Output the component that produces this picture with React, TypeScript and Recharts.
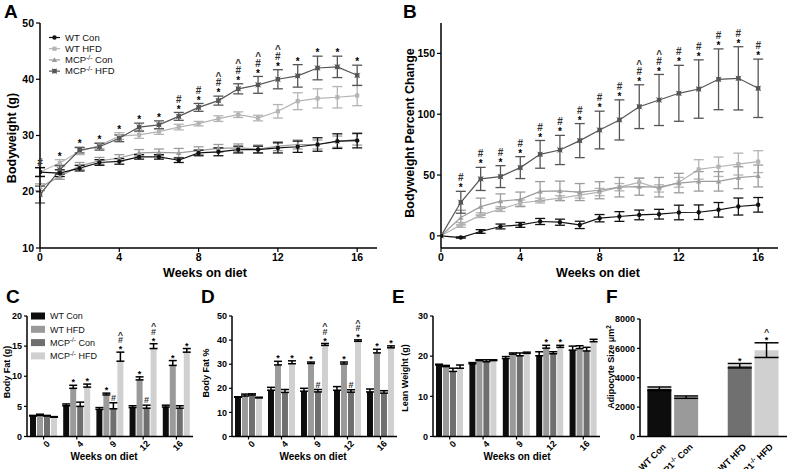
import React from "react";
import { ComposedChart, BarChart, Line, Bar, XAxis, YAxis, ErrorBar, Cell, LabelList } from "recharts";

const FONT = "'Liberation Sans', Arial, sans-serif";
const NARROW = "'Liberation Sans Narrow', 'Liberation Sans', Arial, sans-serif";

// ---------- Panel A / B data ----------
const weeks = [0, 1, 2, 3, 4, 5, 6, 7, 8, 9, 10, 11, 12, 13, 14, 15, 16];
const weekTicks = [0, 4, 8, 12, 16];

const A_wtCon = [23.5, 23.3, 24.2, 25.2, 25.4, 26.2, 26.2, 25.6, 26.9, 27.1, 27.5, 27.5, 27.8, 28.0, 28.4, 29.0, 29.1];
const A_wtConErr = [0.8, 0.6, 0.5, 0.5, 0.5, 0.4, 0.4, 0.4, 0.5, 0.7, 0.6, 0.6, 0.9, 1.0, 1.2, 1.3, 1.3];
const A_wtHfd = [23.5, 25.1, 27.2, 28.2, 29.9, 30.1, 30.7, 31.5, 32.1, 33.0, 33.7, 33.1, 34.3, 36.1, 36.6, 36.8, 37.1];
const A_wtHfdErr = [0.7, 0.6, 0.6, 0.5, 0.6, 0.6, 0.5, 0.5, 0.4, 0.5, 0.5, 0.5, 1.2, 1.5, 1.7, 1.9, 1.8];
const A_mcpCon = [20.8, 22.7, 24.6, 25.5, 26.0, 26.9, 27.0, 26.9, 27.3, 27.7, 27.8, 27.6, 28.1, 28.4, 28.4, 28.9, 29.3];
const A_mcpConErr = [0.6, 0.5, 0.6, 0.6, 0.6, 0.6, 0.6, 0.8, 0.7, 0.7, 0.7, 0.7, 0.8, 0.8, 0.8, 1.0, 1.0];
const A_mcpHfd = [19.5, 23.9, 27.4, 28.0, 29.5, 31.5, 31.9, 33.4, 35.0, 36.2, 38.3, 39.0, 40.0, 40.6, 42.0, 42.2, 40.7];
const A_mcpHfdErr = [1.5, 0.8, 0.5, 0.6, 0.6, 0.7, 0.7, 0.7, 0.7, 0.8, 0.9, 1.5, 1.7, 2.0, 2.1, 1.9, 1.8];
const A_annot = ["#", "*", "*", "*", "*", "*", "*", "*#", "*#", "*#^", "*#^", "*#^", "*#^", "*", "*", "*", "*"];

const B_wtCon = [0, -1.4, 3.6, 7.7, 9.0, 11.8, 11.2, 9.0, 14.5, 15.9, 17.2, 17.8, 19.2, 19.4, 21.4, 24.1, 25.5];
const B_wtConErr = [0, 0.5, 1.5, 2, 2, 2.5, 2.5, 3, 3, 4, 4, 4, 6, 6, 6, 7, 6];
const B_wtHfd = [0, 9, 17, 22, 27, 29, 31, 33.5, 36, 40, 44, 39, 44, 54.6, 56.8, 59, 61];
const B_wtHfdErr = [0, 2, 2, 2, 2.5, 2, 2, 2.5, 3, 3, 3.5, 3, 4, 8, 8, 9, 9];
const B_mcpCon = [0, 15, 24, 28.5, 30, 36.6, 37, 36, 37.5, 40, 40.4, 40, 43.4, 44.8, 44.8, 47.8, 49.2];
const B_mcpConErr = [0, 6, 7, 6, 6, 8, 8, 7, 7, 8, 7, 8, 8, 8, 8, 9, 9];
const B_mcpHfd = [0, 27.6, 46.8, 48.7, 56.1, 67, 70.6, 78.3, 87, 95.3, 106.2, 111.7, 117.2, 120.7, 128.7, 129.5, 121.3];
const B_mcpHfdErr = [0, 9, 9.5, 9, 9, 11.4, 12, 14, 15.5, 16.5, 18, 21, 23, 24, 25, 26, 24];
const B_annot = ["", "*#", "*#", "*#", "*#", "*#", "*#", "*#", "*#", "*#", "*#^", "*#^", "*#", "*#", "*#", "*#", "*#"];

// ---------- Bar panels data ----------
const barCats = ["0", "4", "9", "12", "16"];

const C_wtCon = [3.4, 5.1, 4.5, 4.8, 4.9];
const C_wtConErr = [0.1, 0.3, 0.3, 0.3, 0.3];
const C_wtHfd = [3.5, 8.0, 6.9, 9.4, 11.8];
const C_wtHfdErr = [0.2, 0.5, 0.3, 0.5, 0.8];
const C_mcpCon = [3.4, 5.0, 4.6, 4.7, 4.7];
const C_mcpConErr = [0.1, 0.7, 1.0, 0.5, 0.4];
const C_mcpHfd = [3.2, 8.2, 12.5, 14.6, 14.0];
const C_mcpHfdErr = [0.1, 0.5, 1.5, 0.8, 0.6];

const D_wtCon = [16.3, 19.2, 18.8, 19.2, 18.5];
const D_wtConErr = [0.2, 1.2, 1.2, 1.5, 1.2];
const D_wtHfd = [16.8, 29.7, 30.3, 30.1, 34.7];
const D_wtHfdErr = [0.8, 1.5, 0.6, 0.8, 1.5];
const D_mcpCon = [17.2, 18.3, 18.5, 18.4, 18.0];
const D_mcpConErr = [0.5, 1.2, 1.0, 1.0, 1.0];
const D_mcpHfd = [16.0, 30.2, 37.8, 39.5, 36.8];
const D_mcpHfdErr = [0.3, 1.2, 0.8, 0.6, 0.8];

const E_wtCon = [17.8, 18.1, 19.4, 20.1, 21.5];
const E_wtConErr = [0.2, 0.3, 0.5, 1.0, 1.0];
const E_wtHfd = [17.4, 18.9, 20.5, 22.0, 21.9];
const E_wtHfdErr = [0.3, 0.2, 0.3, 0.7, 0.7];
const E_mcpCon = [16.2, 18.6, 20.1, 20.6, 21.3];
const E_mcpConErr = [0.8, 0.5, 0.7, 0.5, 0.9];
const E_mcpHfd = [17.0, 18.9, 20.7, 22.2, 23.6];
const E_mcpHfdErr = [0.8, 0.2, 0.3, 0.5, 0.6];

const CD_annWtHfd = ["", "*", "*", "*", "*"];
const CD_annMcpCon = ["", "", "#", "#", ""];
const CD_annMcpHfd = ["", "*", "*#^", "*#^", "*"];
const E_annWtHfd = ["", "", "", "*", ""];
const E_annMcpHfd = ["", "", "", "*", ""];
const noAnn = ["", "", "", "", ""];

const F_labels = ["WT Con", "MCP1-/- Con", "WT HFD", "MCP1-/- HFD"];
const F_values = [3250, 2680, 4820, 5880];
const F_errs = [120, 80, 150, 500];
const F_annot = ["", "", "*", "*^"];
const F_colors = ["#0d0d0d", "#9a9a9a", "#707070", "#d0d0d0"];

// ---------- colours ----------
const COL = { wtCon: "#111111", wtHfd: "#b4b4b4", mcpCon: "#9c9c9c", mcpHfd: "#555555" };
const BAR = { wtCon: "#0d0d0d", wtHfd: "#9a9a9a", mcpCon: "#6f6f6f", mcpHfd: "#d0d0d0" };

function buildLine(a: number[][], ann: string[]) {
  return weeks.map((w, i) => ({
    week: w,
    wtCon: a[0][i], wtConErr: a[1][i],
    wtHfd: a[2][i], wtHfdErr: a[3][i],
    mcpCon: a[4][i], mcpConErr: a[5][i],
    mcpHfd: a[6][i], mcpHfdErr: a[7][i],
    annY: Math.max(a[0][i] + a[1][i], a[2][i] + a[3][i], a[4][i] + a[5][i], a[6][i] + a[7][i]),
    annT: ann[i],
  }));
}
const dataA = buildLine([A_wtCon, A_wtConErr, A_wtHfd, A_wtHfdErr, A_mcpCon, A_mcpConErr, A_mcpHfd, A_mcpHfdErr], A_annot);
const dataB = buildLine([B_wtCon, B_wtConErr, B_wtHfd, B_wtHfdErr, B_mcpCon, B_mcpConErr, B_mcpHfd, B_mcpHfdErr], B_annot);

function buildBars(v: number[][], ann: string[][]) {
  return barCats.map((c, i) => ({
    cat: c,
    wtCon: v[0][i], wtConErr: v[1][i], wtConE: [0, v[1][i]], wtConA: ann[0][i],
    wtHfd: v[2][i], wtHfdErr: v[3][i], wtHfdE: [0, v[3][i]], wtHfdA: ann[1][i],
    mcpCon: v[4][i], mcpConErr: v[5][i], mcpConE: [0, v[5][i]], mcpConA: ann[2][i],
    mcpHfd: v[6][i], mcpHfdErr: v[7][i], mcpHfdE: [0, v[7][i]], mcpHfdA: ann[3][i],
  }));
}
const dataC = buildBars([C_wtCon, C_wtConErr, C_wtHfd, C_wtHfdErr, C_mcpCon, C_mcpConErr, C_mcpHfd, C_mcpHfdErr], [noAnn, CD_annWtHfd, CD_annMcpCon, CD_annMcpHfd]);
const dataD = buildBars([D_wtCon, D_wtConErr, D_wtHfd, D_wtHfdErr, D_mcpCon, D_mcpConErr, D_mcpHfd, D_mcpHfdErr], [noAnn, CD_annWtHfd, CD_annMcpCon, CD_annMcpHfd]);
const dataE = buildBars([E_wtCon, E_wtConErr, E_wtHfd, E_wtHfdErr, E_mcpCon, E_mcpConErr, E_mcpHfd, E_mcpHfdErr], [noAnn, E_annWtHfd, noAnn, E_annMcpHfd]);

const dataF: any[] = [];
F_labels.forEach((l, i) => {
  if (i === 2) dataF.push({ cat: "gap", v: null, err: 0, ann: "", color: "#fff" });
  dataF.push({ cat: l, v: F_values[i], err: F_errs[i], ann: F_annot[i], color: F_colors[i] });
});

// ---------- helpers ----------
const glyphCenter: Record<string, number> = { "*": 0.56, "#": 0.36, "^": 0.52 };

function stack(text: string, cx: number, top: number, fs: number, gap: number, first: number, key: string) {
  return (
    <g key={key}>
      {text.split("").map((ch, i) => {
        const center = top - first - i * gap;
        return (
          <text key={i} x={cx} y={center + glyphCenter[ch] * fs} textAnchor="middle" fontSize={fs}
            fontFamily={FONT} fontWeight={700} fill={ch === "*" ? "#000" : "#333"} stroke="none">{ch}</text>
        );
      })}
    </g>
  );
}

const LineAnn = (p: any) => {
  const { x, y, value } = p;
  if (!value || x == null || y == null) return null;
  return stack(String(value), x, y, 10, 8, 5.5, `la${x}`);
};

const barAnnContent = (p: any) => {
  const { x, y, width, height, value } = p;
  if (!value) return null;
  const [t, m, e] = String(value).split("|");
  if (!t) return null;
  const mean = +m, err = +e;
  const base = +y + +height;
  const top = base - ((mean + err) * +height) / mean;
  return stack(t, +x + +width / 2, top, 9, 7, 5, `ba${x}`);
};

function makeDot(shape: string, color: string) {
  return (p: any) => {
    const { cx, cy, index } = p;
    if (cx == null || cy == null) return <g key={`d${index}`} />;
    if (shape === "circle") return <circle key={`d${index}`} cx={cx} cy={cy} r={2.2} fill={color} />;
    if (shape === "square") return <rect key={`d${index}`} x={cx - 2.1} y={cy - 2.1} width={4.2} height={4.2} fill={color} />;
    if (shape === "triangle") return <path key={`d${index}`} d={`M${cx},${cy - 2.7}L${cx + 2.7},${cy + 2.1}L${cx - 2.7},${cy + 2.1}Z`} fill={color} />;
    return (
      <g key={`d${index}`}>
        <rect x={cx - 2.2} y={cy - 2.2} width={4.4} height={4.4} fill={color} />
        <path d={`M${cx - 2.6},${cy - 2.6}L${cx + 2.6},${cy + 2.6}M${cx - 2.6},${cy + 2.6}L${cx + 2.6},${cy - 2.6}`} stroke={color} strokeWidth={0.8} />
      </g>
    );
  };
}

const SupText = ({ s }: { s: string }) => {
  const parts = s.split("-/-");
  if (parts.length === 1) return <>{s}</>;
  return (
    <>
      <tspan>{parts[0]}</tspan>
      <tspan dy={-3.5} fontSize="0.7em">-/-</tspan>
      <tspan dy={3.5}>{parts[1]}</tspan>
    </>
  );
};

const tickTop = { fontSize: 10.5, fontWeight: 700, fill: "#000", fontFamily: NARROW };
const tickBot = { fontSize: 9, fontWeight: 700, fill: "#000", fontFamily: FONT };
const axisLine = { stroke: "#000", strokeWidth: 1.5 };
const tickLine = { stroke: "#000", strokeWidth: 1.2 };

const RotTick = (p: any) => {
  const { x, y, payload } = p;
  if (!payload || payload.value === "gap") return <g />;
  return (
    <g transform={`translate(${x},${y})`}>
      <text x={3} y={7} textAnchor="end" transform="rotate(-45)" fontSize={9} fontWeight={700} fill="#000" fontFamily={FONT}>
        <SupText s={String(payload.value)} />
      </text>
    </g>
  );
};

const lineSeries = [
  { key: "wtHfd", color: COL.wtHfd, shape: "square" },
  { key: "mcpCon", color: COL.mcpCon, shape: "triangle" },
  { key: "mcpHfd", color: COL.mcpHfd, shape: "star" },
  { key: "wtCon", color: COL.wtCon, shape: "circle" },
];

function LinePanel({ data, domain, ticks, yWidth, right }: any) {
  return (
    <ComposedChart width={400} height={280} data={data} margin={{ top: 23, right, bottom: 12, left: 0 }}>
      <XAxis type="number" dataKey="week" domain={[0, 17]} ticks={weekTicks} allowDataOverflow
        tick={tickTop} axisLine={axisLine} tickLine={tickLine} tickSize={4} height={20} interval={0} />
      <YAxis type="number" domain={domain} ticks={ticks} allowDataOverflow tick={tickTop}
        axisLine={axisLine} tickLine={tickLine} tickSize={4} width={yWidth} interval={0} />
      {lineSeries.map((s) => (
        <Line key={s.key} dataKey={s.key} stroke={s.color} strokeWidth={1.2} isAnimationActive={false}
          dot={makeDot(s.shape, s.color)} activeDot={false} type="linear">
          <ErrorBar dataKey={`${s.key}Err`} width={5} stroke={s.color} strokeWidth={1.3} direction="y" />
        </Line>
      ))}
      <Line dataKey="annY" stroke="none" dot={false} activeDot={false} isAnimationActive={false} legendType="none">
        <LabelList dataKey="annT" content={LineAnn} />
      </Line>
    </ComposedChart>
  );
}

const barSeries = ["wtCon", "wtHfd", "mcpCon", "mcpHfd"] as const;
const BAR_XH = 19.5;

function BarPanel({ data, domain, ticks, yWidth, right }: any) {
  return (
    <BarChart width={200} height={169} data={data} margin={{ top: 16, right, bottom: 13, left: 0 }}
      barCategoryGap="9%" barGap={1}>
      <XAxis dataKey="cat" tick={<RotTick />} axisLine={axisLine} tickLine={tickLine} tickSize={3} height={BAR_XH} interval={0} />
      <YAxis type="number" domain={domain} ticks={ticks} tick={tickBot} axisLine={axisLine}
        tickLine={tickLine} tickSize={3} width={yWidth} interval={0} />
      {barSeries.map((k) => (
        <Bar key={k} dataKey={k} fill={(BAR as any)[k]} isAnimationActive={false}>
          <ErrorBar dataKey={`${k}E`} width={4} stroke="#000" strokeWidth={1.5} direction="y" />
          <LabelList dataKey={(d: any) => `${d[k + "A"]}|${d[k]}|${d[k + "Err"]}`} content={barAnnContent} />
        </Bar>
      ))}
    </BarChart>
  );
}

const legendItems = [
  { name: "WT Con", color: COL.wtCon, shape: "circle" },
  { name: "WT HFD", color: COL.wtHfd, shape: "square" },
  { name: "MCP-/- Con", color: COL.mcpCon, shape: "triangle" },
  { name: "MCP-/- HFD", color: COL.mcpHfd, shape: "star" },
];
const barLegend = [
  { name: "WT Con", color: BAR.wtCon },
  { name: "WT HFD", color: BAR.wtHfd },
  { name: "MCP-/- Con", color: BAR.mcpCon },
  { name: "MCP-/- HFD", color: BAR.mcpHfd },
];

export default function App() {
  const abs = (left: number, top: number): React.CSSProperties => ({ position: "absolute", left, top });
  return (
    <div style={{ position: "absolute", left: 0, top: 0, width: 800, height: 469, background: "#fff", overflow: "hidden" }}>
      <div style={abs(0, 0)}>
        <LinePanel data={dataA} domain={[10, 50]} ticks={[10, 20, 30, 40, 50]} yWidth={40} right={23} />
      </div>
      <div style={abs(400, 0)}>
        <LinePanel data={dataB} domain={[-10, 175]} ticks={[0, 50, 100, 150]} yWidth={41} right={22} />
      </div>
      <div style={abs(0, 300)}>
        <BarPanel data={dataC} domain={[0, 20]} ticks={[0, 5, 10, 15, 20]} yWidth={27} right={7} />
      </div>
      <div style={abs(200, 300)}>
        <BarPanel data={dataD} domain={[0, 50]} ticks={[0, 10, 20, 30, 40, 50]} yWidth={32} right={3} />
      </div>
      <div style={abs(400, 300)}>
        <BarPanel data={dataE} domain={[0, 30]} ticks={[0, 10, 20, 30]} yWidth={33} right={0} />
      </div>
      <div style={abs(600, 300)}>
        <BarChart width={200} height={169} data={dataF} margin={{ top: 19, right: 13, bottom: 13, left: 0 }} barCategoryGap="5%">
          <XAxis dataKey="cat" tick={<RotTick />} axisLine={axisLine} tickLine={false} height={BAR_XH} interval={0} padding={{ left: 6, right: 7 }} />
          <YAxis type="number" domain={[0, 8000]} ticks={[0, 2000, 4000, 6000, 8000]} tick={tickBot}
            axisLine={axisLine} tickLine={tickLine} tickSize={3} width={40} interval={0} />
          <Bar dataKey="v" isAnimationActive={false}>
            {dataF.map((d, i) => <Cell key={i} fill={d.color} />)}
            <ErrorBar dataKey="err" width={12} stroke="#000" strokeWidth={1.5} direction="y" />
            <LabelList dataKey={(d: any) => `${d.ann}|${d.v}|${d.err}`} content={barAnnContent} />
          </Bar>
        </BarChart>
      </div>

      <svg width={800} height={469} style={{ position: "absolute", left: 0, top: 0, pointerEvents: "none" }} fontFamily={FONT}>
        {[["A", 4, 18], ["B", 403, 18], ["C", 6, 303], ["D", 201, 303], ["E", 392, 303], ["F", 606, 303]].map(([t, x, y]) => (
          <text key={t as string} x={x as number} y={y as number} fontSize={19} fontWeight={700} fill="#000">{t}</text>
        ))}
        <text transform="translate(16,138) rotate(-90)" textAnchor="middle" fontSize={12.5} fontWeight={700}>Bodyweight (g)</text>
        <text x={205} y={277} textAnchor="middle" fontSize={12.5} fontWeight={700}>Weeks on diet</text>
        <text transform="translate(414,133) rotate(-90)" textAnchor="middle" fontSize={12.5} fontWeight={700}>Bodyweight Percent Change</text>
        <text x={598} y={277} textAnchor="middle" fontSize={12.5} fontWeight={700}>Weeks on diet</text>
        <text transform="translate(10,372) rotate(-90)" textAnchor="middle" fontSize={9} fontWeight={700}>Body Fat (g)</text>
        <text transform="translate(209,373) rotate(-90)" textAnchor="middle" fontSize={9} fontWeight={700}>Body Fat %</text>
        <text transform="translate(408,378) rotate(-90)" textAnchor="middle" fontSize={9} fontWeight={700}>Lean Weight (g)</text>
        <text transform="translate(614,367) rotate(-90)" textAnchor="middle" fontSize={9} fontWeight={700}>
          Adipocyte Size μm<tspan dy={-3} fontSize="0.7em">2</tspan>
        </text>
        <text x={104} y={460} textAnchor="middle" fontSize={10} fontWeight={700}>Weeks on diet</text>
        <text x={313} y={460} textAnchor="middle" fontSize={10} fontWeight={700}>Weeks on diet</text>
        <text x={517} y={460} textAnchor="middle" fontSize={10} fontWeight={700}>Weeks on diet</text>
        {legendItems.map((it, i) => {
          const y = 37.5 + i * 11.2;
          const Dot = makeDot(it.shape, it.color);
          return (
            <g key={it.name}>
              <line x1={49} x2={60} y1={y} y2={y} stroke={it.color} strokeWidth={1.2} />
              {Dot({ cx: 54.5, cy: y, index: 100 + i })}
              <text x={65} y={y + 3.3} fontSize={9.5} fill="#111"><SupText s={it.name} /></text>
            </g>
          );
        })}
        {barLegend.map((it, i) => {
          const y = 316 + i * 13.3;
          return (
            <g key={it.name}>
              <rect x={31} y={y - 3.5} width={14} height={7} fill={it.color} />
              <text x={50} y={y + 3.2} fontSize={9} fill="#111"><SupText s={it.name} /></text>
            </g>
          );
        })}
      </svg>
    </div>
  );
}
